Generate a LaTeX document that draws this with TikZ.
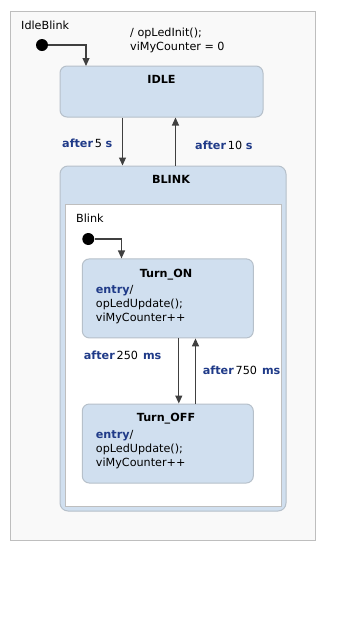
\documentclass[tikz,border=0pt]{standalone}
\usepackage{fontspec}
\setmainfont{DejaVu Sans}
\usetikzlibrary{arrows.meta}

\definecolor{statefill}{HTML}{D0DFEF}
\definecolor{stateline}{HTML}{B6C0CA}
\definecolor{keyword}{HTML}{1F3A88}
\definecolor{frameline}{HTML}{BEBEBE}
\definecolor{framefill}{HTML}{F9F9F9}
\definecolor{wire}{HTML}{404040}

% keywords in transitions and actions
\newcommand{\kw}[1]{\textcolor{keyword}{\textbf{#1}}}

\begin{document}
\begin{tikzpicture}[x=1pt,y=-1pt,font=\fontsize{11.2}{14}\selectfont]
      \tikzstyle{frame}=[draw=frameline,fill=framefill,line width=1pt,inner sep=0pt]
      \tikzstyle{region}=[draw=frameline,fill=white,line width=1pt,inner sep=0pt]
      \tikzstyle{state}=[draw=stateline,fill=statefill,rounded corners=7pt,line width=1pt,inner sep=0pt]
      \tikzstyle{title}=[anchor=base,inner sep=0pt,font=\fontsize{11.2}{14}\selectfont\bfseries]
      \tikzstyle{txt}=[anchor=base west,inner sep=0pt,align=left]
      \tikzstyle{init}=[circle,fill=black,minimum size=12pt,inner sep=0pt]
      \tikzstyle{trans}=[draw=wire,line width=1.2pt,-{Triangle[length=8pt,width=7pt]}]

      \useasboundingbox (0,0) rectangle (364,627);

      % outer chart (multi-line texts sit on their last baseline)
      \node[frame,minimum width=305pt,minimum height=529pt] (chart) at (162.5,275.5) {};
      \node[txt] (chartname) at (21,29) {IdleBlink};
      \node[init] (start) at (42,45) {};
      \node[txt] (initact) at (130,50.5) {/ opLedInit();\\viMyCounter = 0};

      % top level states
      \node[state,minimum width=203pt,minimum height=51pt] (idle) at (161.5,91.5) {};
      \node[title] at (161.5,83) {IDLE};
      \node[state,rounded corners=8pt,minimum width=226pt,minimum height=345pt] (blink) at (173,338.5) {};
      \node[title] at (171,183) {BLINK};

      % region inside BLINK
      \node[region,minimum width=216pt,minimum height=302pt] (blinkregion) at (173.5,355) {};
      \node[txt] (regionname) at (76,222) {Blink};
      \node[init] (blinkstart) at (88.3,239) {};

      \node[state,minimum width=171pt,minimum height=79pt] (on) at (167.8,298.4) {};
      \node[title] at (166,277) {Turn\_ON};
      \node[txt] (onact) at (95.7,321.5) {\kw{entry}/\\opLedUpdate();\\viMyCounter++};

      \node[state,minimum width=171pt,minimum height=79pt] (off) at (167.8,443.5) {};
      \node[title] at (166,421.7) {Turn\_OFF};
      \node[txt] (offact) at (95.7,466.3) {\kw{entry}/\\opLedUpdate();\\viMyCounter++};

      % transitions
      \coordinate (idlein) at (86,66);
      \draw[trans] (start) -| (idlein);
      \draw[trans] ([xshift=63pt]idle.south west) -- ([xshift=63pt]idle.south west |- blink.north);
      \draw[trans] ([xshift=116pt]idle.south west |- blink.north) -- ([xshift=116pt]idle.south west);
      \node[txt] at (62,147) {\kw{after}\,5 \kw{s}};
      \node[txt] at (195,149.7) {\kw{after}\,10 \kw{s}};

      \draw[trans] (blinkstart) -| ([xshift=39.7pt]on.north west);
      \draw[trans] ([xshift=97pt]on.south west) -- ([xshift=97pt]off.north west);
      \draw[trans] ([xshift=113.7pt]off.north west) -- ([xshift=113.7pt]on.south west);
      \node[txt] at (83.7,359.7) {\kw{after}\,250\hspace{5pt}\kw{ms}};
      \node[txt] at (202.7,374.7) {\kw{after}\,750\hspace{5pt}\kw{ms}};
\end{tikzpicture}
\end{document}
